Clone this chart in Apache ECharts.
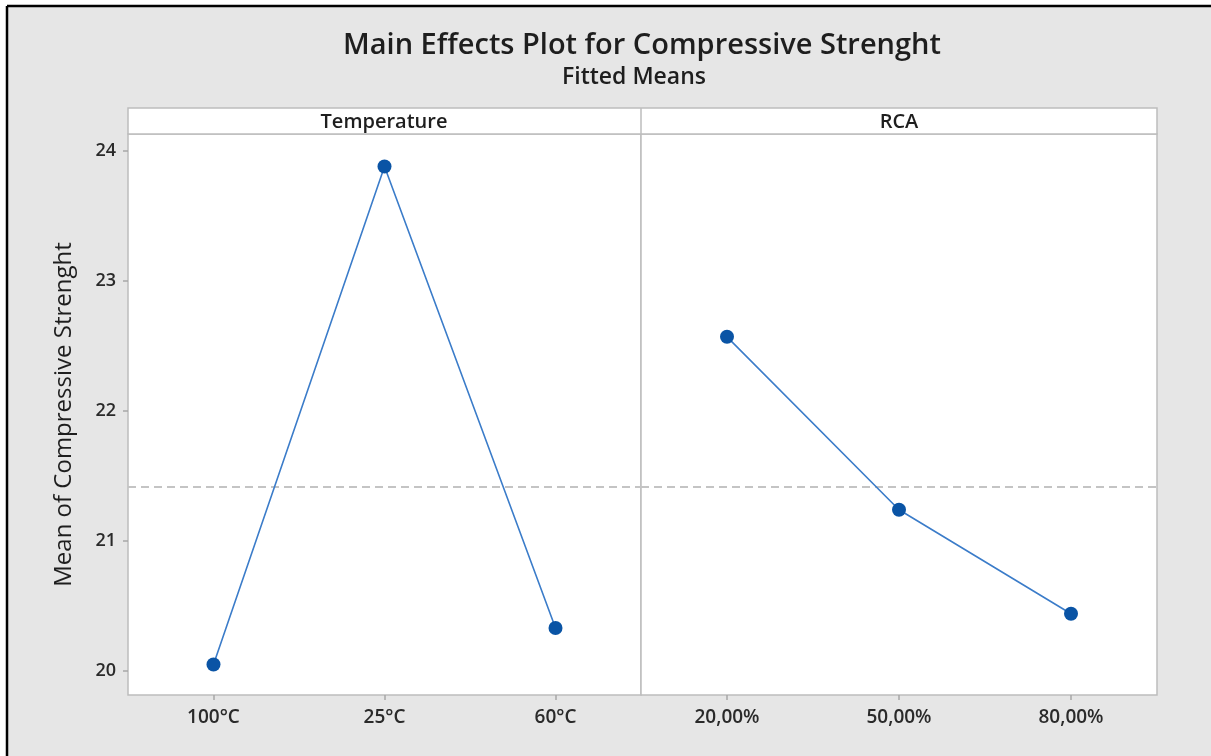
<!DOCTYPE html>
<html>
<head>
<meta charset="utf-8">
<script src="https://cdn.jsdelivr.net/npm/echarts@6/dist/echarts.min.js"></script>
<style>
  html, body { margin: 0; padding: 0; background: #fff; overflow: hidden; }
  #main { width: 1211px; height: 756px; }
</style>
</head>
<body>
<div id="main"></div>
<script>
// categories and fitted means
var tempCategories = ['100°C', '25°C', '60°C'];
var tempMeans = [20.05, 23.88, 20.33];
var rcaCategories = ['20,00%', '50,00%', '80,00%'];
var rcaMeans = [22.57, 21.24, 20.44];
var yTicks = [20, 21, 22, 23, 24];
var overallMean = 21.42;
var panelNames = ['Temperature', 'RCA'];

var font = '"Open Sans", "Noto Sans", sans-serif';
var borderGray = '#bdbdbd';
var lineBlue = '#3b7cc9';
var markBlue = '#0a54a5';

var chart = echarts.init(document.getElementById('main'));

function xAxisFor(idx, cats) {
    return {
        type: 'category',
        gridIndex: idx,
        data: cats,
        boundaryGap: true,
        axisLine: { show: false },
        axisTick: { show: true, alignWithLabel: true, length: 5, lineStyle: { color: '#a8a8a8', width: 1.5 } },
        axisLabel: { margin: 13, color: '#2a2a2a', fontSize: 19, fontWeight: 600, fontFamily: font },
        splitLine: { show: false }
    };
}

function yAxisFor(idx, showIt) {
    return {
        type: 'value',
        gridIndex: idx,
        min: 19.815,
        max: 24.13,
        show: showIt,
        name: showIt ? 'Mean of Compressive Strenght' : '',
        nameLocation: 'middle',
        nameRotate: 90,
        nameGap: 52,
        nameTextStyle: { fontSize: 24, color: '#1e1e1e', fontFamily: font },
        axisLine: { show: false },
        axisTick: { show: true, length: 5, customValues: yTicks, lineStyle: { color: '#a8a8a8', width: 1.5 } },
        axisLabel: { margin: 12, customValues: yTicks, color: '#2a2a2a', fontSize: 18, fontWeight: 600, fontFamily: font },
        splitLine: { show: false }
    };
}

function seriesFor(idx, values) {
    return {
        type: 'line',
        xAxisIndex: idx,
        yAxisIndex: idx,
        data: values,
        symbol: 'circle',
        symbolSize: 14,
        itemStyle: { color: markBlue },
        lineStyle: { color: lineBlue, width: 1.6 },
        z: 5,
        markLine: {
            silent: true,
            symbol: 'none',
            label: { show: false },
            lineStyle: { color: '#c4c4c4', width: 2, type: [8, 5] },
            data: [{ yAxis: overallMean }]
        }
    };
}

chart.setOption({
    backgroundColor: '#fff',
    animation: false,
    graphic: [
        // grey frame with black rule on left and top only
        { type: 'rect', z: -100, shape: { x: 7, y: 6, width: 1204, height: 750 },
          style: { fill: '#e6e6e6' } },
        { type: 'line', z: -99, shape: { x1: 7, y1: 6, x2: 1211, y2: 6 },
          style: { stroke: '#000', lineWidth: 2.5 } },
        { type: 'line', z: -99, shape: { x1: 7, y1: 6, x2: 7, y2: 756 },
          style: { stroke: '#000', lineWidth: 2.5 } },
        { type: 'text', x: 642, y: 46, style: { text: 'Main Effects Plot for Compressive Strenght', align: 'center', verticalAlign: 'middle',
          font: '600 29px ' + font, fill: '#1e1e1e' } },
        { type: 'text', x: 634, y: 77, style: { text: 'Fitted Means', align: 'center', verticalAlign: 'middle',
          font: '600 23px ' + font, fill: '#1e1e1e' } },
        // panel header strip
        { type: 'rect', z: 10, shape: { x: 128, y: 108, width: 1029, height: 26 },
          style: { fill: '#fff', stroke: borderGray, lineWidth: 1.5 } },
        { type: 'line', z: 11, shape: { x1: 641, y1: 108, x2: 641, y2: 134 },
          style: { stroke: borderGray, lineWidth: 1.5 } },
        { type: 'text', z: 12, x: 384, y: 122, style: { text: panelNames[0], align: 'center', verticalAlign: 'middle',
          font: '600 20px ' + font, fill: '#1e1e1e' } },
        { type: 'text', z: 12, x: 899, y: 122, style: { text: panelNames[1], align: 'center', verticalAlign: 'middle',
          font: '600 20px ' + font, fill: '#1e1e1e' } }
    ],
    grid: [
        { left: 128, top: 134, width: 513, height: 561, show: true, backgroundColor: '#fff', borderColor: borderGray, borderWidth: 1.5 },
        { left: 641, top: 134, width: 516, height: 561, show: true, backgroundColor: '#fff', borderColor: borderGray, borderWidth: 1.5 }
    ],
    xAxis: [xAxisFor(0, tempCategories), xAxisFor(1, rcaCategories)],
    yAxis: [yAxisFor(0, true), yAxisFor(1, false)],
    series: [seriesFor(0, tempMeans), seriesFor(1, rcaMeans)]
});
</script>
</body>
</html>
